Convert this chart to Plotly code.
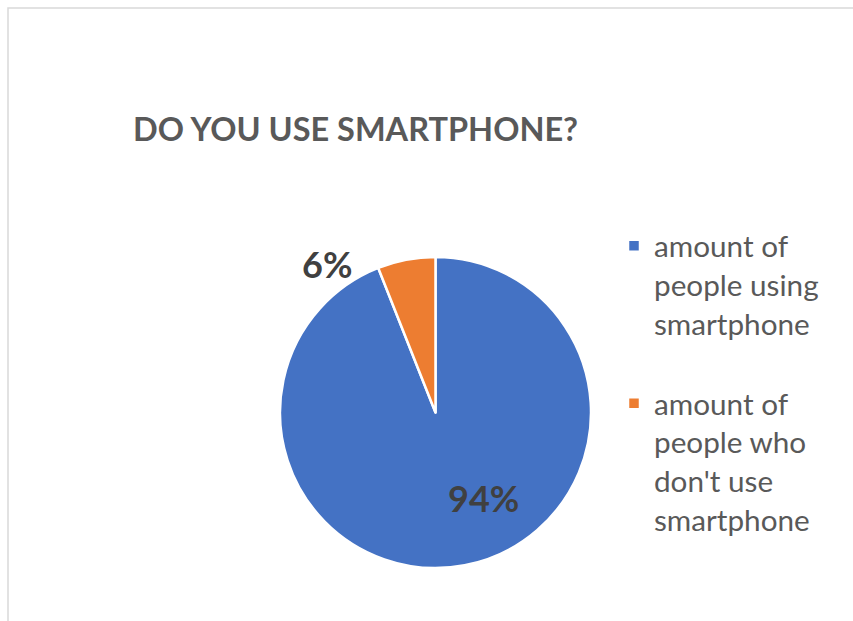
import plotly.graph_objects as go

# Data
categories = ["amount of<br>people using<br>smartphone<br> ",
              "amount of<br>people who<br>don't use<br>smartphone"]
values = [94, 6]
colors = ["#4472C4", "#ED7D31"]
title_text = "DO YOU USE SMARTPHONE?"

W, H = 853, 621
cx, cy, r = 435.5, 412.5, 155.5

fig = go.Figure(go.Pie(
    labels=categories,
    values=values,
    sort=False,
    direction="clockwise",
    rotation=0,
    marker=dict(colors=colors, line=dict(color="white", width=2.5)),
    textinfo="none",
    hoverinfo="label+percent",
    domain=dict(x=[(cx - r) / W, (cx + r) / W],
                y=[(H - cy - r) / H, (H - cy + r) / H]),
))

total = sum(values)
pct = [f"{round(v * 100 / total)}%" for v in values]
label_pos = [(483, 498), (327, 264)]
for t, (px, py) in zip(pct, label_pos):
    fig.add_annotation(x=px / W, y=1 - py / H, xref="paper", yref="paper",
                       text=t, showarrow=False, xanchor="center", yanchor="middle",
                       font=dict(family="Lato", size=36, color="#404040", weight="bold"))

# chart frame
fig.add_shape(type="rect", xref="paper", yref="paper",
              x0=8 / W, x1=1.02, y0=-0.02, y1=1 - 8 / H,
              line=dict(color="#D9D9D9", width=1.5), fillcolor="rgba(0,0,0,0)")

fig.update_layout(
    width=W, height=H,
    margin=dict(l=0, r=0, t=0, b=0),
    paper_bgcolor="white", plot_bgcolor="white",
    title=dict(text=title_text, x=133 / W, xanchor="left", xref="paper",
               y=1 - 130 / H, yanchor="middle", yref="paper",
               font=dict(family="Lato", size=32.5, color="#595959", weight="bold")),
    showlegend=True,
    legend=dict(x=614 / W, xanchor="left", y=1 - 220 / H, yanchor="top",
                valign="top", bgcolor="rgba(0,0,0,0)",
                font=dict(family="Lato", size=29.7, color="#595959"),
                traceorder="normal"),
)

fig.write_html("out.html")
